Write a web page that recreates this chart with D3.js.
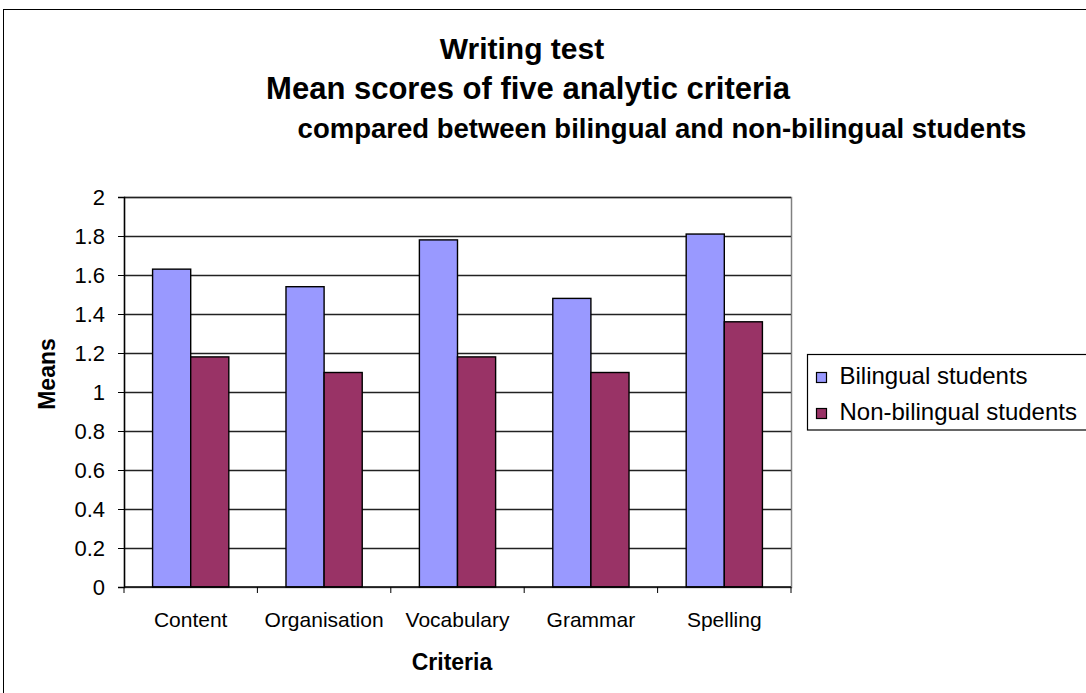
<!DOCTYPE html>
<html>
<head>
<meta charset="utf-8">
<script src="https://cdn.jsdelivr.net/npm/d3@7"></script>
<style>
  html, body { margin: 0; padding: 0; background: #fff; }
  svg { display: block; font-family: "Liberation Sans", Arial, sans-serif; }
</style>
</head>
<body>
<svg id="chart" width="1086" height="693"></svg>
<script>
// Writing test: mean scores per criterion for the two student groups
const categories = ["Content", "Organisation", "Vocabulary", "Grammar", "Spelling"];
const seriesNames = ["Bilingual students", "Non-bilingual students"];
const bilingual = [1.63, 1.54, 1.78, 1.48, 1.81];
const nonBilingual = [1.18, 1.10, 1.18, 1.10, 1.36];
const yTicks = [0, 0.2, 0.4, 0.6, 0.8, 1, 1.2, 1.4, 1.6, 1.8, 2];
const titleLines = [
  "Writing test",
  "Mean scores of five analytic criteria",
  "compared between bilingual and non-bilingual students"
];
const colors = ["#9999ff", "#993366"];

const svg = d3.select("#chart");
const FONT = "Liberation Sans, Arial, sans-serif";

// outer chart frame
svg.append("rect")
  .attr("x", 3.5).attr("y", 9.5)
  .attr("width", 1090).attr("height", 700)
  .attr("fill", "#fff").attr("stroke", "#000").attr("stroke-width", 1);

// plot area
const plot = { left: 124, right: 791, top: 197, bottom: 587 };

const x = d3.scaleBand().domain(categories).range([plot.left, plot.right]);
const barW = x.bandwidth() / 3.5;
const y = d3.scaleLinear().domain([0, 2]).range([plot.bottom, plot.top]);

// plot area border
svg.append("rect")
  .attr("x", plot.left + 0.5).attr("y", plot.top + 0.5)
  .attr("width", plot.right - plot.left).attr("height", plot.bottom - plot.top)
  .attr("fill", "none").attr("stroke", "#808080").attr("stroke-width", 1.5);

// horizontal gridlines
svg.append("g")
  .selectAll("line")
  .data(yTicks.filter(d => d > 0))
  .join("line")
  .attr("x1", plot.left).attr("x2", plot.right)
  .attr("y1", d => Math.round(y(d)) + 0.5).attr("y2", d => Math.round(y(d)) + 0.5)
  .attr("stroke", "#222").attr("stroke-width", 1.3);

// bars
const rows = categories.map((c, i) => ({ c, vals: [bilingual[i], nonBilingual[i]] }));
const groups = svg.append("g").selectAll("g")
  .data(rows).join("g")
  .attr("transform", d => `translate(${x(d.c) + barW * 0.75},0)`);
groups.selectAll("rect")
  .data(d => d.vals.map((v, k) => ({ v, k })))
  .join("rect")
  .attr("x", d => d.k * barW)
  .attr("y", d => y(d.v))
  .attr("width", barW)
  .attr("height", d => y(0) - y(d.v))
  .attr("fill", d => colors[d.k])
  .attr("stroke", "#000").attr("stroke-width", 1.4);

// y axis
const yAxis = d3.axisLeft(y).tickValues(yTicks).tickSize(6).tickPadding(13)
  .tickFormat(d => d3.format("~g")(d));
const gy = svg.append("g").attr("transform", `translate(${plot.left},0)`).call(yAxis);
gy.select(".domain").attr("stroke", "#000").attr("stroke-width", 1.4);
gy.selectAll(".tick line").attr("stroke", "#000");
gy.selectAll(".tick text").attr("font-size", 22).attr("fill", "#000")
  .attr("font-family", FONT);

// x axis with ticks at category boundaries
const gx = svg.append("g").attr("transform", `translate(0,${plot.bottom})`);
gx.append("line").attr("x1", plot.left).attr("x2", plot.right)
  .attr("y1", 0).attr("y2", 0).attr("stroke", "#000").attr("stroke-width", 1.4);
const boundaries = categories.map(c => x(c)).concat([x(categories[categories.length - 1]) + x.bandwidth()]);
gx.selectAll("line.tk").data(boundaries).join("line").attr("class", "tk")
  .attr("x1", d => d).attr("x2", d => d).attr("y1", 0).attr("y2", 6)
  .attr("stroke", "#000");
gx.selectAll("text").data(categories).join("text")
  .attr("x", d => x(d) + x.bandwidth() / 2)
  .attr("y", 40)
  .attr("text-anchor", "middle")
  .attr("font-size", 21)
  .text(d => d);

// axis titles
svg.append("text")
  .attr("transform", "translate(55,374) rotate(-90)")
  .attr("text-anchor", "middle")
  .attr("font-size", 23).attr("font-weight", "bold")
  .text("Means");
svg.append("text")
  .attr("x", 452).attr("y", 670)
  .attr("text-anchor", "middle")
  .attr("font-size", 23).attr("font-weight", "bold")
  .text("Criteria");

// chart title, three centred lines
const titlePos = [
  { x: 522, y: 59, size: 30 },
  { x: 528, y: 99, size: 31 },
  { x: 662, y: 138, size: 27.5 }
];
svg.append("g").selectAll("text")
  .data(titleLines).join("text")
  .attr("x", (d, i) => titlePos[i].x)
  .attr("y", (d, i) => titlePos[i].y)
  .attr("text-anchor", "middle")
  .attr("font-size", (d, i) => titlePos[i].size)
  .attr("font-weight", "bold")
  .text(d => d);

// legend
const legend = svg.append("g");
legend.append("rect")
  .attr("x", 807.5).attr("y", 354.5).attr("width", 300).attr("height", 75.5)
  .attr("fill", "#fff").attr("stroke", "#000").attr("stroke-width", 1.2);
const items = legend.selectAll("g.item").data(seriesNames).join("g").attr("class", "item")
  .attr("transform", (d, i) => `translate(816.5,${372.5 + i * 36})`);
items.append("rect")
  .attr("width", 10).attr("height", 10)
  .attr("fill", (d, i) => colors[i]).attr("stroke", "#000").attr("stroke-width", 1.2);
items.append("text")
  .attr("x", 23).attr("y", 11.5)
  .attr("font-size", 24)
  .text(d => d);
</script>
</body>
</html>
